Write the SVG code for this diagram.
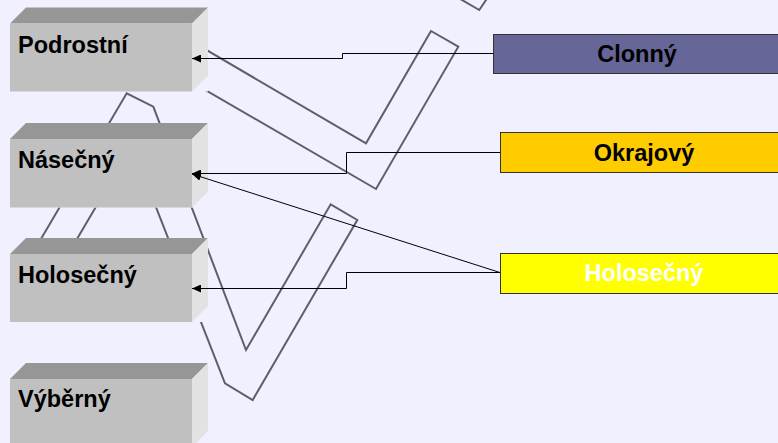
<svg xmlns="http://www.w3.org/2000/svg" width="778" height="443" viewBox="0 0 778 443">
<style>
.chk{fill:none;stroke:#5e5e6c;stroke-width:2;stroke-linejoin:miter}
.bg{fill:#F0F0FF}
.top{fill:#969696}
.front{fill:#C0C0C0}
.side{fill:#E2E2E2}
.lbl{font-family:"Liberation Sans",Arial,sans-serif;font-weight:bold;font-size:23.5px;fill:#000}
.rlbl{font-family:"Liberation Sans",Arial,sans-serif;font-weight:bold;font-size:23.5px;text-anchor:middle}
.conn{fill:none;stroke:#000;stroke-width:1}
.rbox{stroke:#333;stroke-width:1}
</style>
<defs>
<marker id="arr" markerWidth="10" markerHeight="8" refX="9" refY="4" orient="auto" markerUnits="userSpaceOnUse">
<polygon points="0,0 9,4 0,8" fill="#000"/>
</marker>
</defs>
<rect x="0" y="0" width="778" height="443" fill="#F0F0FF"/>

<g id="checks">
<polygon class="chk" points="431,31 366,143.3 150,17 133,48 376,189 458.3,46.7"/>
<polygon class="chk" points="153.3,106.7 246,350 330.7,204.3 357.3,220 252.7,400 225,383.3 131.9,145.7 43.4,296 16.8,280 126.7,93.3"/>
<polyline class="chk" points="444.7,-10 479.3,10 492.7,-10"/>
</g>

<g id="podrostni">
<rect class="bg" x="10" y="7.5" width="198" height="84"/>
<polygon class="top" points="10,23.5 26,7.5 208,7.5 192,23.5"/>
<rect class="front" x="10" y="23.5" width="182" height="68"/>
<polygon class="side" points="192,23.5 208,7.5 208,75.5 192,91.5"/>
<text class="lbl" x="18" y="53.3">Podrostní</text>
</g>

<g id="nasecny">
<rect class="bg" x="10" y="123" width="198" height="84.5"/>
<polygon class="top" points="10,139 26,123 208,123 192,139"/>
<rect class="front" x="10" y="139" width="182" height="68.5"/>
<polygon class="side" points="192,139 208,123 208,191.5 192,207.5"/>
<text class="lbl" x="18" y="168.3">Násečný</text>
</g>

<g id="holosecny-left">
<rect class="bg" x="10" y="238" width="198" height="84"/>
<polygon class="top" points="10,254 26,238 208,238 192,254"/>
<rect class="front" x="10" y="254" width="182" height="68"/>
<polygon class="side" points="192,254 208,238 208,306 192,322"/>
<text class="lbl" x="18" y="283.3">Holosečný</text>
</g>

<g id="vyberny">
<rect class="bg" x="10" y="363" width="198" height="84"/>
<polygon class="top" points="10,379 26,363 208,363 192,379"/>
<rect class="front" x="10" y="379" width="182" height="68"/>
<polygon class="side" points="192,379 208,363 208,431 192,447"/>
<text class="lbl" x="18" y="406.7">Výběrný</text>
</g>

<g id="connectors">
<path class="conn" marker-end="url(#arr)" d="M493.5,53.5 H342.5 V58.5 H192"/>
<path class="conn" marker-end="url(#arr)" d="M500.5,152.5 H346.5 V173.5 H192"/>
<path class="conn" marker-end="url(#arr)" d="M500.5,272.7 L192,174"/>
<path class="conn" marker-end="url(#arr)" d="M500.5,272.5 H346.5 V288.5 H192"/>
</g>

<g id="clonny">
<rect class="rbox" x="493.5" y="34.5" width="300" height="39" fill="#666699"/>
<text class="rlbl" x="637" y="61.7" fill="#000">Clonný</text>
</g>

<g id="okrajovy">
<rect class="rbox" x="500.5" y="132.5" width="300" height="40" fill="#FFCC00"/>
<text class="rlbl" x="644" y="160.5" fill="#000">Okrajový</text>
</g>

<g id="holosecny-right">
<rect class="rbox" x="500.5" y="253.5" width="300" height="40" fill="#FFFF00"/>
<text class="rlbl" x="644" y="281" fill="#FFFFFF">Holosečný</text>
</g>
</svg>
